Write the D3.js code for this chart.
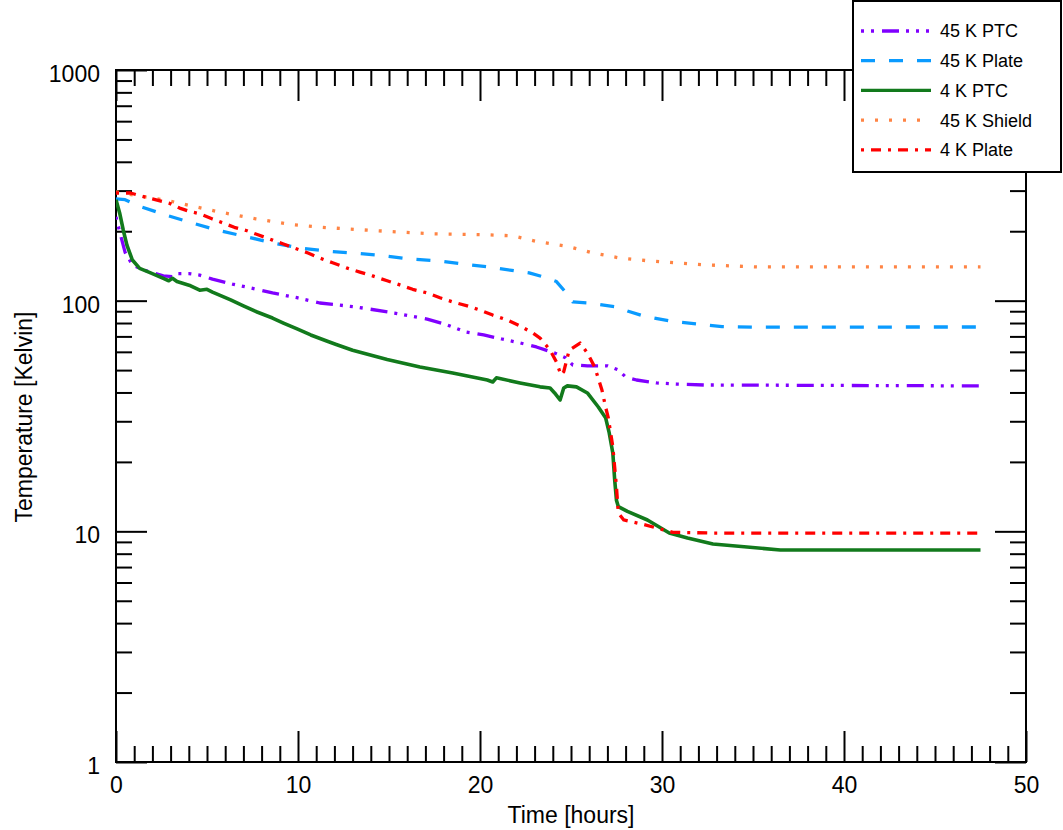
<!DOCTYPE html>
<html><head><meta charset="utf-8">
<script src="https://cdn.jsdelivr.net/npm/d3@7"></script>
<style>
body{margin:0;background:#fff}
svg{display:block}
text{font-family:"Liberation Sans",Arial,Helvetica,sans-serif;fill:#000}
</style>
</head><body>
<svg id="chart" width="1063" height="830"></svg>
<script>
// ---- data: [time in hours, temperature in Kelvin] ----
const ptc45 = [[0,231],[0.2,199],[0.5,162],[0.9,143],[1.5,136],[2.6,128],[3.1,127],[3.4,131],[4.0,131],[4.6,129],[5.3,124],[6.4,118],[7.75,112],[8.6,108],[9.95,103],[11.2,97.7],[13.2,93.9],[15.3,88.4],[17.1,83.2],[18.2,78.5],[19.2,73.2],[20.2,71],[21.2,68.2],[22.2,65.6],[23.1,63],[24.1,59.3],[24.7,56.5],[25.1,52.6],[25.9,52.2],[27.0,52.2],[27.6,50.1],[28.0,46.7],[28.6,45.3],[29.7,44],[30.8,43.5],[32.3,43.1],[47.5,42.7]];
const plate45 = [[0,276],[0.5,274],[1.4,255],[2.9,233],[4.2,217],[5.7,201],[7.2,189],[8.6,178],[10.1,169],[11.6,164],[13.0,161],[14.6,157],[16.0,152],[17.6,149],[19.1,144],[20.5,140],[22.1,134],[22.7,132],[23.6,126],[24.2,121],[24.7,109],[25.1,98.7],[26.0,97.7],[26.7,95.8],[27.5,93.9],[28.1,90.2],[29.0,85.8],[30.4,81.7],[31.9,79.3],[33.3,77.2],[35,76.8],[47.5,76.9]];
const ptc4 = [[0,274],[0.2,240],[0.4,202],[0.6,174],[0.9,150],[1.3,138],[1.9,132],[2.6,125],[2.9,122],[3.1,125],[3.35,121],[4.1,116],[4.6,111],[5.0,112],[5.3,109],[6.3,100.7],[7.0,94.9],[7.75,89.3],[8.6,84.1],[9.2,80],[9.95,75.4],[10.7,71],[11.65,66.5],[12.1,64.6],[13.0,61],[14.9,55.6],[16.7,51.6],[18.5,48.6],[20.4,45.3],[20.7,44.4],[20.9,46.3],[22.2,44],[23.3,42.3],[23.85,41.8],[24.1,39.8],[24.4,37.1],[24.6,41.8],[24.8,42.7],[25.3,42.3],[25.9,39.8],[26.5,34.6],[26.9,31.1],[27.1,26.7],[27.3,21.8],[27.4,16.7],[27.5,13.6],[27.6,12.8],[28.1,12.2],[29.2,11.2],[30.4,9.83],[31.4,9.36],[32.8,8.81],[36.5,8.3],[47.5,8.3]];
const shield45 = [[0,296],[1.3,284],[2.9,271],[4.2,257],[5.6,243],[7.7,226],[9.8,213],[11.3,208],[14.3,201],[17.4,195],[20.4,193],[21.8,191],[23.2,180],[24.8,172],[26.2,161],[27.7,153],[29.2,149],[30.7,146],[32.3,143],[35.3,140],[40,140],[47.5,140]];
const plate4 = [[0,293],[0.8,293],[1.4,284],[2.0,276],[2.9,265],[3.5,252],[4.1,243],[4.6,238],[5.3,226],[5.9,217],[6.5,208],[7.2,201],[7.8,193],[8.6,183],[9.2,176],[9.8,169],[10.55,161],[11.2,153],[11.9,146],[12.75,138],[13.4,133],[14.1,128],[14.9,122],[15.6,117],[16.3,112],[17.1,108],[17.8,103],[18.5,98.7],[19.3,94.9],[20.0,91.1],[20.7,86.6],[21.5,82.4],[22.2,77.7],[22.9,72.4],[23.3,68.8],[23.85,61.1],[24.2,54.2],[24.45,47.6],[24.6,49.2],[24.9,61],[25.5,65.5],[25.9,59.3],[26.3,51.6],[26.7,41],[26.9,34.6],[27.05,31],[27.3,23.2],[27.5,15.5],[27.6,12],[27.9,11.2],[29.0,10.7],[30.6,9.9],[32.8,9.83],[47.5,9.83]];

const seriesNames = ["45 K PTC","45 K Plate","4 K PTC","45 K Shield","4 K Plate"];
const seriesData = [ptc45, plate45, ptc4, shield45, plate4];
const seriesColors = ["#8000ff","#0a9bff","#127a1c","#ff8444","#ff0000"];
const seriesDash = ["17,7,3,7,3,7,3,8","14,14",null,"3,11","10,7,3,7"];
const seriesDashOffset = [34,0,0,0,17];

const xMajorTicks = [0,10,20,30,40,50];
const xMinorTicks = d3.range(0,51).filter(v => v % 10 !== 0);
const yMajorTicks = [1,10,100,1000];
const yMinorTicks = [1,10,100].flatMap(d => [2,3,4,5,6,7,8,9].map(m => m*d));

// ---- layout ----
const L = 116, R = 1026, T = 70, B = 762;
const svg = d3.select("#chart");
const x = d3.scaleLinear().domain([0,50]).range([L,R]);
const y = d3.scaleLog().domain([1,1000]).range([B,T]);

svg.append("clipPath").attr("id","clip").append("rect")
  .attr("x",L).attr("y",T).attr("width",R-L).attr("height",B-T);

function styleAxis(g){
  g.select(".domain").remove();
  g.selectAll(".tick line").attr("stroke","#000").attr("stroke-width",2);
  g.selectAll("text").attr("font-size",23).attr("fill","#000")
   .style("font-family",'"Liberation Sans",Arial,Helvetica,sans-serif');
}
// bottom
svg.append("g").attr("transform",`translate(0,${B})`)
  .call(d3.axisBottom(x).tickValues(xMajorTicks).tickSize(-31).tickSizeOuter(0).tickPadding(15).tickFormat(d3.format("d")))
  .call(styleAxis);
svg.append("g").attr("transform",`translate(0,${B})`)
  .call(d3.axisBottom(x).tickValues(xMinorTicks).tickSize(-16).tickSizeOuter(0).tickFormat(""))
  .call(styleAxis);
// top
svg.append("g").attr("transform",`translate(0,${T})`)
  .call(d3.axisTop(x).tickValues(xMajorTicks).tickSize(-31).tickSizeOuter(0).tickFormat(""))
  .call(styleAxis);
svg.append("g").attr("transform",`translate(0,${T})`)
  .call(d3.axisTop(x).tickValues(xMinorTicks).tickSize(-16).tickSizeOuter(0).tickFormat(""))
  .call(styleAxis);
// left
svg.append("g").attr("transform",`translate(${L},0)`)
  .call(d3.axisLeft(y).tickValues(yMajorTicks).tickSize(-31).tickSizeOuter(0).tickPadding(16).tickFormat(d3.format("d")))
  .call(styleAxis)
  .call(g => g.selectAll("text").attr("dy","0.5em"));
svg.append("g").attr("transform",`translate(${L},0)`)
  .call(d3.axisLeft(y).tickValues(yMinorTicks).tickSize(-16).tickSizeOuter(0).tickFormat(""))
  .call(styleAxis);
// right
svg.append("g").attr("transform",`translate(${R},0)`)
  .call(d3.axisRight(y).tickValues(yMajorTicks).tickSize(-31).tickSizeOuter(0).tickFormat(""))
  .call(styleAxis);
svg.append("g").attr("transform",`translate(${R},0)`)
  .call(d3.axisRight(y).tickValues(yMinorTicks).tickSize(-16).tickSizeOuter(0).tickFormat(""))
  .call(styleAxis);

// frame
svg.append("rect").attr("x",L).attr("y",T).attr("width",R-L).attr("height",B-T)
  .attr("fill","none").attr("stroke","#000").attr("stroke-width",2);

// lines
const line = d3.line().x(d => x(d[0])).y(d => y(d[1]));
const plot = svg.append("g").attr("clip-path","url(#clip)");
seriesData.forEach((data,i) => {
  plot.append("path").datum(data)
    .attr("d", line)
    .attr("fill","none")
    .attr("stroke", seriesColors[i])
    .attr("stroke-width", i === 2 ? 3.6 : 3.3)
    .attr("stroke-linejoin","round")
    .attr("stroke-dasharray", seriesDash[i])
    .attr("stroke-dashoffset", seriesDashOffset[i]);
});

// axis titles
svg.append("text").attr("x",(L+R)/2).attr("y",823).attr("text-anchor","middle")
  .attr("font-size",23).text("Time [hours]");
svg.append("text").attr("transform",`translate(32,${(T+B)/2 + 1}) rotate(-90)`)
  .attr("text-anchor","middle").attr("font-size",23).text("Temperature [Kelvin]");

// legend
const lg = svg.append("g");
lg.append("rect").attr("x",853).attr("y",1).attr("width",208).attr("height",171)
  .attr("fill","#fff").attr("stroke","#000").attr("stroke-width",2);
seriesNames.forEach((name,i) => {
  const yy = 31 + i*29.7;
  lg.append("line").attr("x1",861).attr("x2",931).attr("y1",yy).attr("y2",yy)
    .attr("stroke",seriesColors[i]).attr("stroke-width",3.3)
    .attr("stroke-dasharray",seriesDash[i]).attr("stroke-dashoffset",seriesDashOffset[i]);
  lg.append("text").attr("x",940).attr("y",yy).attr("dy","0.36em")
    .attr("font-size",18).text(name);
});
</script>
</body></html>
